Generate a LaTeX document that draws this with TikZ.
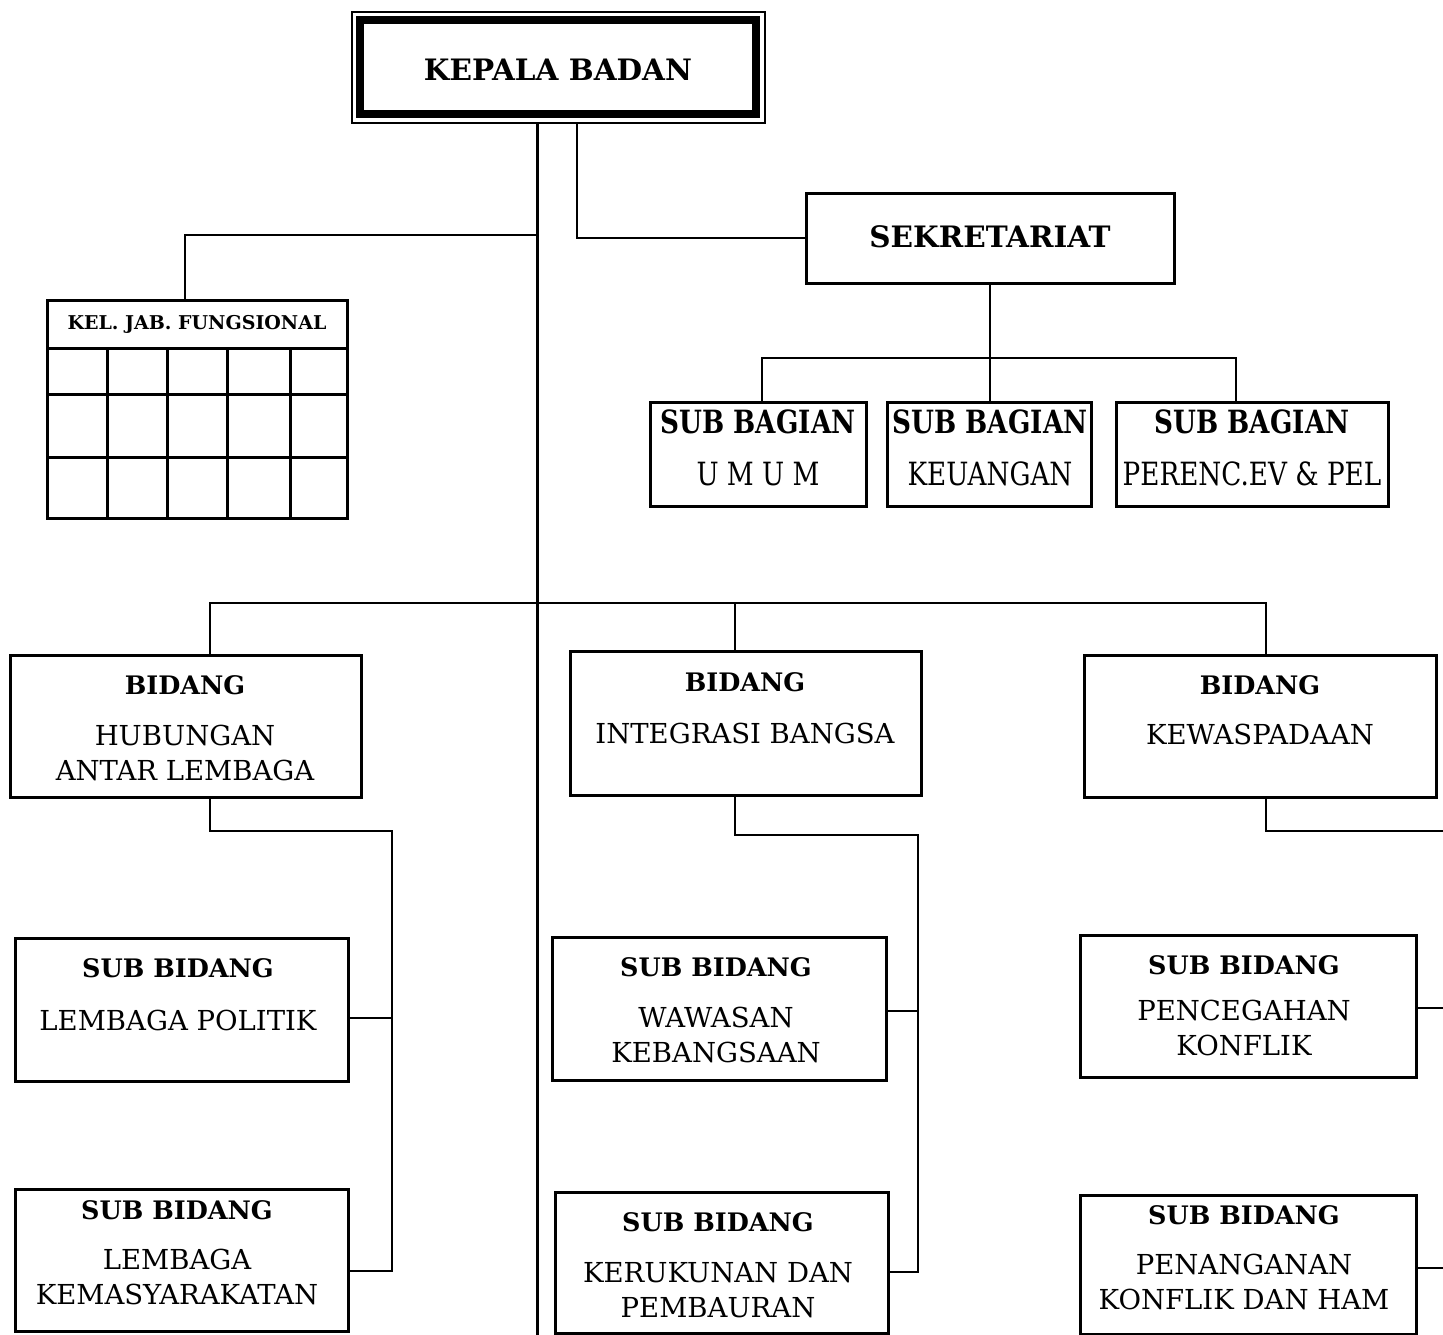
\documentclass[tikz,border=0pt]{standalone}
\usepackage{fontspec}
\setmainfont{DejaVu Serif}
\newfontfamily\condfont[FakeStretch=0.82]{DejaVu Serif}
\begin{document}
\begin{tikzpicture}[x=1pt,y=-1pt,
  bx/.style 2 args={draw,line width=3pt,inner sep=0pt,minimum width=#1pt,minimum height=#2pt},
  conn/.style={line width=2pt},
  ttl/.style={font=\fontsize{25.5}{30}\selectfont\bfseries,inner sep=0pt},
  bdy/.style={font=\fontsize{27.5}{35}\selectfont,align=center,inner sep=0pt},
  bigt/.style={font=\fontsize{29.5}{34}\selectfont\bfseries,inner sep=0pt},
  sbt/.style={font=\fontsize{32}{36}\selectfont\condfont\bfseries,inner sep=0pt},
  sbb/.style={font=\fontsize{32}{36}\selectfont\condfont,inner sep=0pt}]
\useasboundingbox[fill=white] (0,0) rectangle (1443,1335);

% Kepala Badan
\node[draw,line width=1.5pt,minimum width=413pt,minimum height=111pt,inner sep=0pt] (kbo) at (558.5,67.5) {};
\node[draw,line width=8pt,minimum width=396pt,minimum height=94.5pt,inner sep=0pt] (kb) at (558,67.25) {};
\node[bigt] (tkb) at (558,70) {KEPALA BADAN};

% Sekretariat
\node[bx={368}{90}] (sek) at (990,238) {};
\node[bigt] (tsek) at (990,237) {SEKRETARIAT};

% Sub bagian
\node[bx={216}{104}] (umum) at (758,454) {};
\node[bx={204}{104}] (keu) at (989,454) {};
\node[bx={272}{104}] (per) at (1252,454) {};
\node[sbt] (tu1) at (758,422) {SUB BAGIAN};
\node[sbb] (tu2) at (758,474) {U M U M};
\node[sbt] (tk1) at (990,422) {SUB BAGIAN};
\node[sbb] (tk2) at (990,474) {KEUANGAN};
\node[sbt] (tp1) at (1252,422) {SUB BAGIAN};
\node[sbb] (tp2) at (1252,474) {PERENC.EV \& PEL};

% Kel. Jab. Fungsional
\node[bx={300}{218}] (kjf) at (197,409) {};
\node[font=\fontsize{19}{22}\selectfont\bfseries,inner sep=0pt] (tkjf) at (197,324) {KEL. JAB. FUNGSIONAL};
\foreach \yy in {348,394,457} \draw[line width=3pt] (47,\yy) -- (347,\yy);
\foreach \xx in {107,167,227,290} \draw[line width=3pt] (\xx,348) -- (\xx,518);

% Bidang
\node[bx={351}{142}] (hub) at (185.5,726) {};
\node[bx={351}{144}] (int) at (745.5,723) {};
\node[bx={352}{142}] (kew) at (1260,726) {};
\node[ttl] (th1) at (185,685) {BIDANG};
\node[bdy] (th2) at (185,752.5) {HUBUNGAN\\ANTAR LEMBAGA};
\node[ttl] (ti1) at (745,682) {BIDANG};
\node[bdy] (ti2) at (745,733) {INTEGRASI BANGSA};
\node[ttl] (tw1) at (1260,685) {BIDANG};
\node[bdy] (tw2) at (1260,734) {KEWASPADAAN};

% Sub bidang
\node[bx={333}{143}] (lp) at (181.5,1009.5) {};
\node[bx={333}{142}] (lk) at (181.5,1260) {};
\node[bx={334}{143}] (ww) at (719,1008.5) {};
\node[bx={333}{141}] (kr) at (721.5,1262.5) {};
\node[bx={336}{142}] (pc) at (1248,1006) {};
\node[bx={336}{139}] (pn) at (1248,1264.5) {};

\node[ttl] (tlp1) at (178,968) {SUB BIDANG};
\node[bdy] (tlp2) at (178,1020) {LEMBAGA POLITIK};
\node[ttl] (tlk1) at (177,1210) {SUB BIDANG};
\node[bdy] (tlk2) at (177,1276.5) {LEMBAGA\\KEMASYARAKATAN};
\node[ttl] (tww1) at (716,967) {SUB BIDANG};
\node[bdy] (tww2) at (716,1035) {WAWASAN\\KEBANGSAAN};
\node[ttl] (tkr1) at (718,1222) {SUB BIDANG};
\node[bdy] (tkr2) at (718,1290) {KERUKUNAN DAN\\PEMBAURAN};
\node[ttl] (tpc1) at (1244,965) {SUB BIDANG};
\node[bdy] (tpc2) at (1244,1028) {PENCEGAHAN\\KONFLIK};
\node[ttl] (tpn1) at (1244,1215) {SUB BIDANG};
\node[bdy] (tpn2) at (1244,1282) {PENANGANAN\\KONFLIK DAN HAM};

% Connectors
\coordinate (mbot) at (537,1335);
\coordinate (sx) at (577,0);
\coordinate (kj) at (537,235);
\coordinate (sbus) at (990,358);
\coordinate (bbus) at (537,603);
\draw[line width=3pt] (kbo.south -| mbot) -- (mbot);
\draw[conn] (kbo.south -| sx) |- (sek.west);
\draw[conn] (kj) -| ([xshift=-12pt]kjf.north);
\draw[conn] (sek.south) -- (sbus);
\draw[conn] ([xshift=4pt]umum.north) |- (sbus) -| ([xshift=-16pt]per.north);
\draw[conn] (sbus) -- ([xshift=1pt]keu.north);
\draw[conn] ([xshift=24.5pt]hub.north) |- (bbus) -| ([xshift=6pt]kew.north);
\draw[conn] (bbus -| int.north) ++(-10.5,0) -- ([xshift=-10.5pt]int.north);

% Hubungan branch
\coordinate (h1) at (392,831);
\coordinate (h2) at (392,1271);
\draw[conn] ([xshift=24.5pt]hub.south) |- (h1) -- (h2) -- ([yshift=-11pt]lk.east);
\draw[conn] ([yshift=-8.5pt]lp.east) -- ([yshift=-8.5pt]lp.east -| h1);

% Integrasi branch
\coordinate (i1) at (918,835);
\coordinate (i2) at (918,1272);
\draw[conn] ([xshift=-10.5pt]int.south) |- (i1) -- (i2) -- ([yshift=-9.5pt]kr.east);
\draw[conn] ([yshift=-2.5pt]ww.east) -- ([yshift=-2.5pt]ww.east -| i1);

% Kewaspadaan branch
\coordinate (k1) at (1443,831);
\coordinate (k2) at (1443,1008);
\coordinate (k3) at (1443,1268);
\draw[conn] ([xshift=6pt]kew.south) |- (k1);
\draw[conn] ([yshift=-2pt]pc.east) -- (k2);
\draw[conn] ([yshift=-3.5pt]pn.east) -- (k3);
\end{tikzpicture}
\end{document}
